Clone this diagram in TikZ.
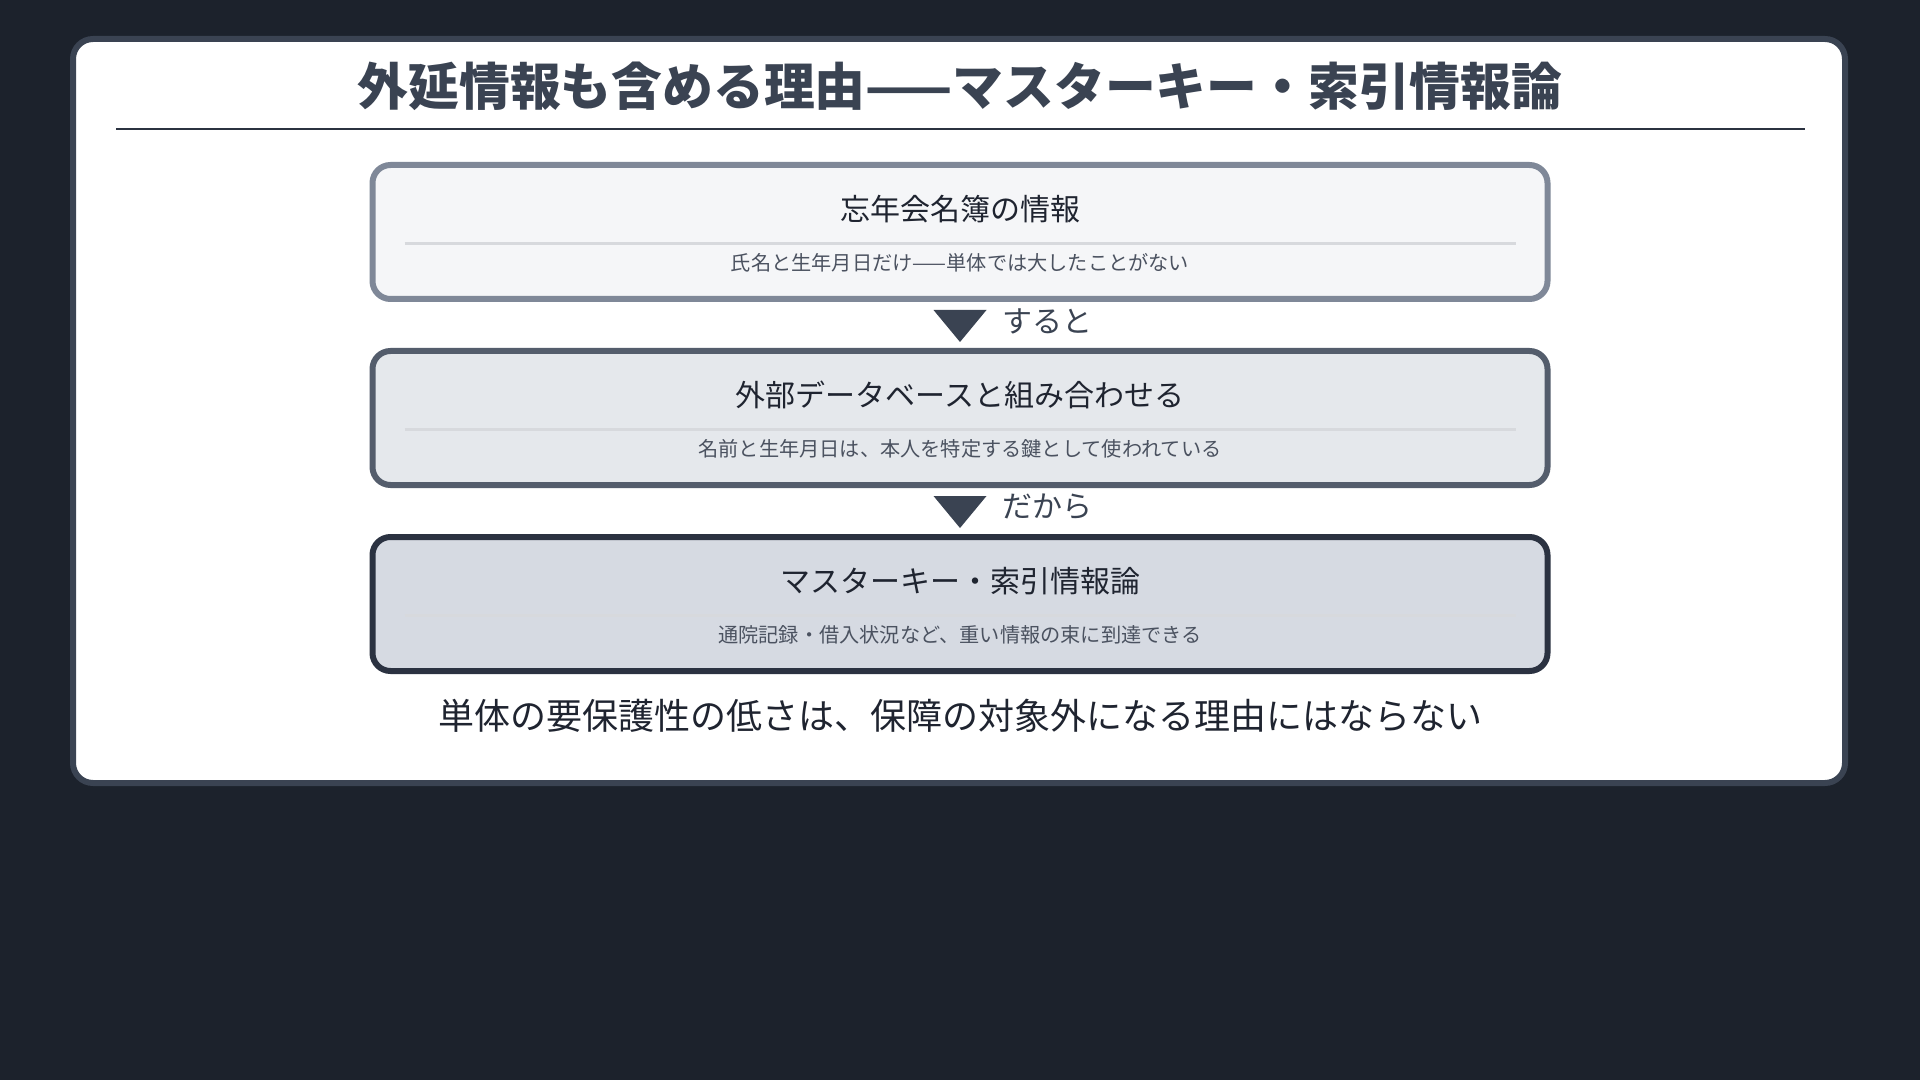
\documentclass[tikz,border=0pt]{standalone}
\usepackage{fontspec}
\setmainfont{Noto Sans CJK JP}
\usetikzlibrary{calc}
\definecolor{bg}{HTML}{1C222C}
\definecolor{slate}{HTML}{3A4352}
\definecolor{rulec}{HTML}{2B3240}
\definecolor{ink}{HTML}{1F2430}
\definecolor{subink}{HTML}{4B5260}
\definecolor{sepc}{HTML}{D7D9DD}
\definecolor{g1}{HTML}{7F8898}
\definecolor{f1}{HTML}{F5F6F8}
\definecolor{g2}{HTML}{545D6C}
\definecolor{f2}{HTML}{E5E8EC}
\definecolor{g3}{HTML}{2B3241}
\definecolor{f3}{HTML}{D6DAE2}
\begin{document}
\begin{tikzpicture}[x=0.5pt,y=-0.5pt,
    box/.style={draw,rounded corners=9pt,line width=3pt,minimum width=587.5pt,minimum height=67pt,node distance=93pt},
    head/.style={font=\fontsize{15}{18}\selectfont,text=ink},
    sub/.style={font=\fontsize{10.1}{12}\selectfont,text=subink},
    sep/.style={draw=sepc,line width=1.5pt},
    lbl/.style={font=\fontsize{15}{18}\selectfont,text=slate,anchor=west}]
    \useasboundingbox (0,0) rectangle (1920,1080);
    \fill[bg] (0,0) rectangle (1920,1080);
    \draw[slate,fill=white,line width=3pt,rounded corners=10pt] (73,39) rectangle (1845,783);
    \node[font=\fontsize{25.4}{30}\selectfont\bfseries,text=slate] (title) at (960,86) {外延情報も含める理由——マスターキー・索引情報論};
    \draw[rulec,line width=1.4pt] (116,129) -- (1805,129);
    \node[box,draw=g1,fill=f1] (b1) at (960,232) {};
    \node[box,draw=g2,fill=f2,below of=b1] (b2) {};
    \node[box,draw=g3,fill=f3,below of=b2] (b3) {};
    \node[head] (h1) at ([yshift=11.5pt]b1.center) {忘年会名簿の情報};
    \draw[sep] ([xshift=17.5pt,yshift=-5.75pt]b1.west) -- ([xshift=-17.5pt,yshift=-5.75pt]b1.east);
    \node[sub] (s1) at ([yshift=-15.5pt]b1.center) {氏名と生年月日だけ——単体では大したことがない};
    \node[head] (h2) at ([yshift=11.5pt]b2.center) {外部データベースと組み合わせる};
    \draw[sep] ([xshift=17.5pt,yshift=-5.75pt]b2.west) -- ([xshift=-17.5pt,yshift=-5.75pt]b2.east);
    \node[sub] (s2) at ([yshift=-15.5pt]b2.center) {名前と生年月日は、本人を特定する鍵として使われている};
    \node[head] (h3) at ([yshift=11.5pt]b3.center) {マスターキー・索引情報論};
    \draw[sep] ([xshift=17.5pt,yshift=-5.75pt]b3.west) -- ([xshift=-17.5pt,yshift=-5.75pt]b3.east);
    \node[sub] (s3) at ([yshift=-15.5pt]b3.center) {通院記録・借入状況など、重い情報の束に到達できる};
    % arrows between the boxes
    \coordinate (a1) at ($(b1.south)!0.5!(b2.north)$);
    \coordinate (a2) at ($(b2.south)!0.5!(b3.north)$);
    \fill[slate] ([xshift=-13.25pt,yshift=7.5pt]a1) -- ([xshift=13.25pt,yshift=7.5pt]a1) -- ([yshift=-8.5pt]a1) -- cycle;
    \fill[slate] ([xshift=-13.25pt,yshift=7.5pt]a2) -- ([xshift=13.25pt,yshift=7.5pt]a2) -- ([yshift=-8.5pt]a2) -- cycle;
    \node[lbl] (l1) at ([xshift=17.5pt,yshift=2pt]a1) {すると};
    \node[lbl] (l2) at ([xshift=17.5pt,yshift=2pt]a2) {だから};
    \node[font=\fontsize{18}{22}\selectfont,text=ink] (note) at (960,716) {単体の要保護性の低さは、保障の対象外になる理由にはならない};
\end{tikzpicture}
\end{document}
